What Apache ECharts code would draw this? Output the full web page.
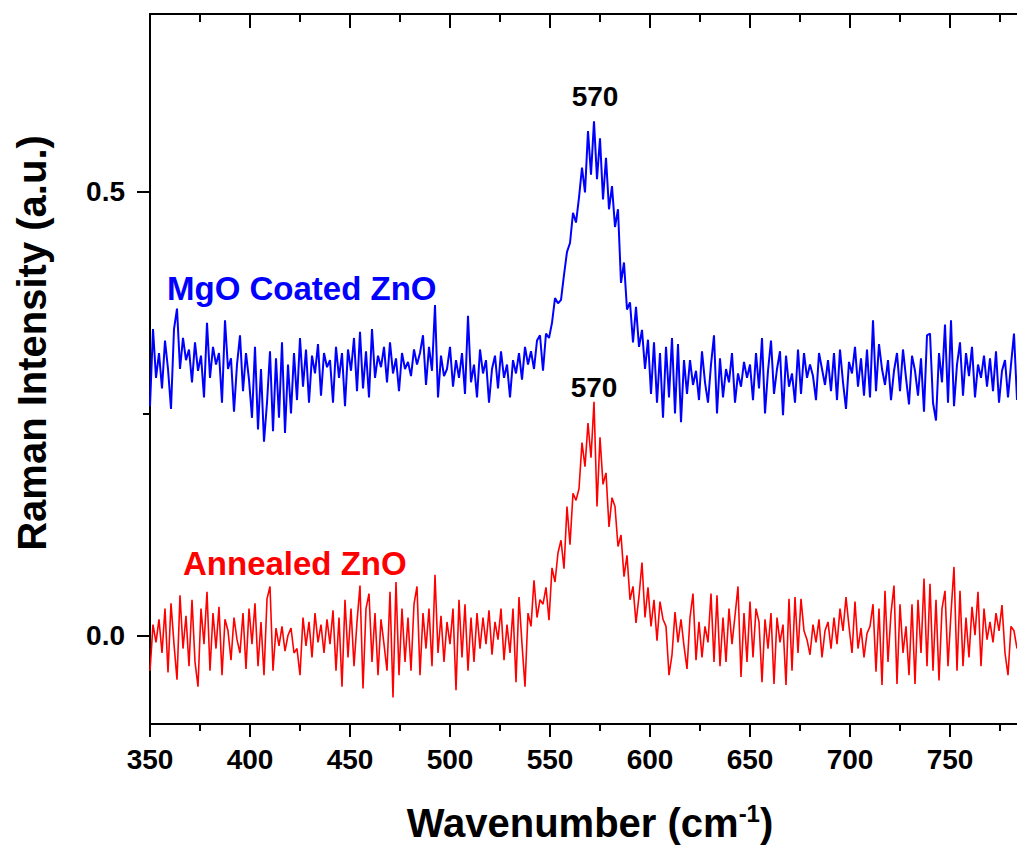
<!DOCTYPE html>
<html>
<head>
<meta charset="utf-8">
<script src="https://cdn.jsdelivr.net/npm/echarts/dist/echarts.min.js"></script>
<style>
html,body{margin:0;padding:0;background:#fff;}
#chart{width:1017px;height:846px;}
</style>
</head>
<body>
<div id="chart"></div>
<script>
// Raman spectra, sampled every 1.5 cm-1 from 350 cm-1
const xStart = 350;
const xStep = 1.5;

const mgoCoated = [
0.258,0.345,0.290,0.318,0.278,0.332,0.300,0.255,0.345,0.368,
0.300,0.335,0.310,0.322,0.285,0.330,0.298,0.315,0.268,0.352,
0.290,0.325,0.305,0.318,0.262,0.355,0.300,0.312,0.252,0.305,
0.338,0.275,0.318,0.288,0.245,0.325,0.232,0.300,0.218,0.262,
0.320,0.230,0.312,0.245,0.330,0.228,0.305,0.250,0.318,0.265,
0.335,0.280,0.322,0.262,0.315,0.295,0.328,0.270,0.318,0.302,
0.310,0.262,0.325,0.290,0.318,0.258,0.322,0.298,0.335,0.275,
0.342,0.278,0.320,0.268,0.345,0.290,0.315,0.302,0.325,0.285,
0.330,0.295,0.312,0.275,0.318,0.300,0.308,0.292,0.322,0.305,
0.318,0.338,0.282,0.325,0.298,0.372,0.268,0.315,0.292,0.300,
0.325,0.280,0.310,0.290,0.318,0.272,0.360,0.285,0.305,0.268,
0.322,0.295,0.310,0.262,0.300,0.315,0.278,0.320,0.290,0.305,
0.268,0.310,0.295,0.318,0.288,0.325,0.305,0.320,0.300,0.332,
0.338,0.298,0.340,0.335,0.352,0.380,0.374,0.378,0.406,0.432,
0.442,0.476,0.465,0.493,0.527,0.499,0.568,0.519,0.579,0.514,
0.560,0.491,0.538,0.480,0.506,0.460,0.480,0.397,0.420,0.367,
0.375,0.330,0.370,0.325,0.344,0.300,0.333,0.272,0.330,0.262,
0.318,0.245,0.325,0.268,0.335,0.250,0.328,0.240,0.310,0.272,
0.310,0.282,0.298,0.265,0.320,0.285,0.262,0.305,0.338,0.250,
0.312,0.268,0.300,0.285,0.318,0.262,0.295,0.280,0.308,0.290,
0.305,0.265,0.318,0.278,0.335,0.250,0.298,0.332,0.272,0.300,
0.320,0.248,0.315,0.280,0.295,0.262,0.322,0.272,0.318,0.290,
0.305,0.292,0.265,0.318,0.300,0.282,0.310,0.275,0.318,0.265,
0.322,0.285,0.255,0.308,0.295,0.325,0.280,0.312,0.270,0.322,
0.268,0.355,0.275,0.328,0.300,0.282,0.310,0.265,0.298,0.318,
0.275,0.322,0.290,0.260,0.315,0.298,0.270,0.312,0.252,0.338,
0.340,0.262,0.242,0.318,0.285,0.350,0.262,0.355,0.258,0.305,
0.330,0.270,0.318,0.292,0.325,0.268,0.305,0.290,0.315,0.280,
0.312,0.275,0.320,0.262,0.298,0.310,0.268,0.305,0.340,0.265
];

const annealed = [
-0.040,0.012,-0.008,0.018,-0.020,0.030,-0.042,0.036,-0.010,-0.050,
0.045,-0.015,0.022,-0.035,0.040,-0.030,-0.058,0.030,-0.010,0.049,
-0.040,0.025,-0.015,0.032,-0.045,0.018,0.005,-0.028,0.020,-0.005,
-0.020,0.025,-0.038,0.030,-0.010,0.036,-0.035,0.015,-0.045,0.041,
0.055,-0.040,0.008,-0.012,0.010,-0.018,0.000,0.008,-0.020,-0.015,
-0.045,0.020,-0.012,0.015,-0.025,0.025,-0.008,0.012,-0.020,0.018,
-0.010,0.028,-0.040,0.020,-0.058,0.040,-0.025,0.030,-0.035,0.015,
0.056,-0.060,0.030,0.047,-0.030,0.025,-0.045,0.018,-0.010,-0.040,
0.049,-0.070,0.060,-0.045,0.030,-0.030,0.020,-0.040,0.035,0.055,
-0.045,0.025,-0.015,0.030,-0.035,0.068,-0.020,0.022,-0.030,0.015,
-0.010,0.030,-0.062,0.040,-0.025,0.035,-0.040,0.020,-0.030,0.025,
-0.015,0.020,-0.010,0.028,-0.022,0.015,-0.005,0.030,-0.028,0.012,
-0.020,0.030,-0.053,0.043,-0.010,-0.058,0.025,0.010,0.062,0.020,
0.040,0.035,0.054,0.017,0.076,0.060,0.093,0.107,0.075,0.145,
0.102,0.160,0.152,0.165,0.217,0.190,0.239,0.200,0.263,0.145,
0.223,0.170,0.183,0.122,0.155,0.145,0.100,0.113,0.066,0.090,
0.040,0.055,0.014,0.044,0.082,0.020,0.054,0.010,0.040,-0.006,
0.038,0.018,0.010,-0.045,-0.022,0.026,-0.008,0.018,-0.012,-0.038,
0.020,0.047,-0.028,0.015,-0.025,0.010,-0.008,0.047,-0.030,0.045,
-0.035,0.020,-0.030,0.030,-0.010,0.022,0.055,-0.047,0.025,-0.030,
0.038,-0.025,0.030,0.015,-0.053,0.018,-0.015,0.025,-0.055,0.020,
-0.008,0.012,-0.056,0.041,-0.040,0.043,-0.020,0.041,0.005,-0.005,
-0.022,0.012,-0.008,0.018,-0.025,0.005,0.015,-0.015,0.020,-0.010,
0.030,0.005,0.043,0.010,-0.020,0.038,-0.015,0.008,-0.025,0.002,
0.010,0.035,-0.041,0.030,-0.056,0.050,-0.030,0.025,0.056,-0.055,
0.035,-0.020,0.010,-0.045,0.035,-0.055,0.040,-0.020,0.064,-0.035,
0.058,-0.040,0.040,-0.051,0.030,0.050,-0.035,0.025,0.077,-0.040,
0.050,-0.035,0.020,-0.025,0.032,0.000,0.049,-0.035,0.030,-0.005,
0.015,-0.008,0.025,0.005,0.034,-0.020,-0.045,0.010,0.005,-0.015
];

const xMajorTicks = [350, 400, 450, 500, 550, 600, 650, 700, 750];
const xMinorTicks = [375, 425, 475, 525, 575, 625, 675, 725, 775];
const yMajorTicks = [0.0, 0.5];
const yMinorTicks = [0.25];
const peakLabels = [
  { name: 'MgO Coated ZnO', peak: 570, at: [572.5, 0.607] },
  { name: 'Annealed ZnO', peak: 570, at: [572, 0.279] }
];

const xMin = 350, xMax = 783.5, yMin = -0.1, yMax = 0.7;

function toPairs(arr) {
  return arr.map((v, i) => [xStart + i * xStep, v]);
}

const FONT = '"Liberation Sans", Arial, Helvetica, sans-serif';
const chart = echarts.init(document.getElementById('chart'), null, { renderer: 'svg' });

function xAxisDef(pos, ticks, len, withLine, withLabel, inside) {
  return {
    type: 'value', position: pos, min: xMin, max: xMax,
    axisLine: { show: withLine, onZero: false, lineStyle: { color: '#000', width: 2 } },
    axisTick: { show: true, inside: inside, customValues: ticks, length: len, lineStyle: { color: '#000', width: 2 } },
    axisLabel: withLabel ? {
      show: true, customValues: ticks, margin: 21,
      fontSize: 28, fontWeight: 'bold', fontFamily: FONT, color: '#000'
    } : { show: false },
    splitLine: { show: false }
  };
}

function yAxisDef(ticks, len, withLine, withLabel) {
  return {
    type: 'value', position: 'left', min: yMin, max: yMax,
    axisLine: { show: withLine, onZero: false, lineStyle: { color: '#000', width: 2 } },
    axisTick: { show: true, customValues: ticks, length: len, lineStyle: { color: '#000', width: 2 } },
    axisLabel: withLabel ? {
      show: true, customValues: ticks, margin: 25,
      formatter: v => Number(v).toFixed(1),
      fontSize: 28, fontWeight: 'bold', fontFamily: FONT, color: '#000'
    } : { show: false },
    splitLine: { show: false }
  };
}

const option = {
  animation: false,
  backgroundColor: '#fff',
  grid: { left: 150, right: 0, top: 14, bottom: 122, containLabel: false },
  xAxis: [
    xAxisDef('bottom', xMajorTicks, 13, true, true, false),
    xAxisDef('bottom', xMinorTicks, 7, false, false, false),
    xAxisDef('top', xMajorTicks, 14, true, false, true),
    xAxisDef('top', xMinorTicks, 8, false, false, true)
  ],
  yAxis: [
    yAxisDef(yMajorTicks, 13, true, true),
    yAxisDef(yMinorTicks, 7, false, false)
  ],
  series: [
    {
      name: 'Annealed ZnO', type: 'line', data: toPairs(annealed),
      xAxisIndex: 0, yAxisIndex: 0, showSymbol: false, symbol: 'none',
      lineStyle: { color: '#ff0000', width: 1.6 }, itemStyle: { color: '#ff0000' },
      markPoint: {
        symbol: 'circle', symbolSize: 0,
        label: { show: true, position: 'inside', formatter: String(peakLabels[1].peak),
          fontSize: 28, fontWeight: 'bold', fontFamily: FONT, color: '#000' },
        data: [{ coord: peakLabels[1].at }]
      }
    },
    {
      name: 'MgO Coated ZnO', type: 'line', data: toPairs(mgoCoated),
      xAxisIndex: 0, yAxisIndex: 0, showSymbol: false, symbol: 'none',
      lineStyle: { color: '#0000ff', width: 2 }, itemStyle: { color: '#0000ff' },
      markPoint: {
        symbol: 'circle', symbolSize: 0,
        label: { show: true, position: 'inside', formatter: String(peakLabels[0].peak),
          fontSize: 28, fontWeight: 'bold', fontFamily: FONT, color: '#000' },
        data: [{ coord: peakLabels[0].at }]
      }
    }
  ],
  graphic: [
    {
      type: 'text', left: 167, top: 292 - 20,
      style: { text: 'MgO Coated ZnO', fill: '#0000ff', font: 'bold 33px ' + FONT }
    },
    {
      type: 'text', left: 183, top: 567 - 20,
      style: { text: 'Annealed ZnO', fill: '#ff0000', font: 'bold 33px ' + FONT }
    },
    {
      type: 'text', x: 32, y: 343, rotation: Math.PI / 2,
      style: { text: 'Raman Intensity (a.u.)', fill: '#000', font: 'bold 40px ' + FONT,
        align: 'center', verticalAlign: 'middle', textAlign: 'center', textVerticalAlign: 'middle' }
    },
    {
      type: 'text', x: 590, y: 823,
      style: {
        text: '{a|Wavenumber (cm}{s|-1}{a|)}',
        align: 'center', verticalAlign: 'middle', textAlign: 'center', textVerticalAlign: 'middle',
        fill: '#000',
        rich: {
          a: { fontSize: 40, fontWeight: 'bold', fontFamily: FONT, color: '#000', lineHeight: 44 },
          s: { fontSize: 24, fontWeight: 'bold', fontFamily: FONT, color: '#000', verticalAlign: 'top', lineHeight: 44 }
        }
      }
    }
  ]
};

chart.setOption(option);
</script>
</body>
</html>
